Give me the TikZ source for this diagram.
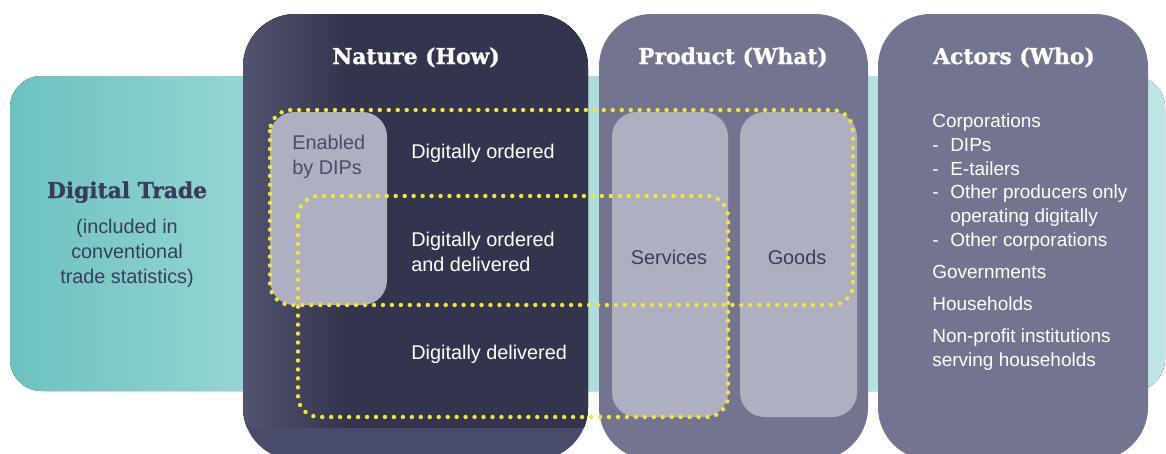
\documentclass[tikz,border=0pt]{standalone}
\usepackage{fontspec}
\setmainfont{Liberation Sans}
\newfontfamily\slabfont{DejaVu Serif}[BoldFeatures={FakeBold=1.2}]
\usetikzlibrary{positioning}
\usepackage{xcolor}

\definecolor{navy}{HTML}{33354F}
\definecolor{navyleft}{HTML}{52546F}
\definecolor{navyfoot}{HTML}{494B6A}
\definecolor{slate}{HTML}{737590}
\definecolor{lilac}{HTML}{AEAFC0}
\definecolor{tealdark}{HTML}{6CC2C0}
\definecolor{tealsoft}{HTML}{93D5D2}
\definecolor{tealmid}{HTML}{AEDEDB}
\definecolor{teallight}{HTML}{BDE5E3}
\definecolor{dotyellow}{HTML}{F4E530}
\definecolor{inkdark}{HTML}{3B3C5D}
\definecolor{inkgrey}{HTML}{4B4C68}

% 25bp = left edge of the path, 75bp = right edge
\pgfdeclarehorizontalshading{navyfade}{100bp}{color(0bp)=(navyleft); color(25bp)=(navyleft); color(40bp)=(navy); color(100bp)=(navy)}
\pgfdeclarehorizontalshading{tealfade}{100bp}{color(0bp)=(tealdark); color(25bp)=(tealdark); color(35bp)=(tealsoft); color(50bp)=(tealmid); color(75bp)=(teallight); color(100bp)=(teallight)}

\newcommand{\listdash}[1]{\makebox[10.2pt][l]{-}#1}

\tikzset{paneltitle/.style={text=white, font=\slabfont\bfseries\fontsize{12.4}{15}\selectfont, anchor=base, inner sep=0pt},
         bodytext/.style={text=white, font=\fontsize{11.3}{14.2}\selectfont, align=left, anchor=base west, inner sep=0pt},
         dotline/.style={draw=dotyellow, line width=2.5pt, line cap=round, dash pattern=on 0pt off 5.1pt, rounded corners=12}}

\begin{document}
\begin{tikzpicture}[x=0.02cm, y=-0.02cm]

        \useasboundingbox (0,0) rectangle (1166,453);
        \clip (0,0) rectangle (1166,453);

        % Band
        \fill[rounded corners=18, shading=tealfade] (10,76) rectangle (1165,391);

        % Panels
        \fill[navyfoot, rounded corners=30] (243,14) rectangle (588,460);
        \begin{scope}
            \clip (243,0) rectangle (588,427);
            \fill[rounded corners=30, shading=navyfade] (243,14) rectangle (588,460);
        \end{scope}
        \fill[slate, rounded corners=30] (599,14) rectangle (868,460);
        \fill[slate, rounded corners=30] (878,14) rectangle (1148,460);

        % Inner boxes
        \fill[lilac, rounded corners=14] (270,112) rectangle (387,305);
        \fill[lilac, rounded corners=14] (612,112) rectangle (728,417);
        \fill[lilac, rounded corners=14] (740,112) rectangle (857,417);

        % Dotted groups
        \draw[dotline] (270,110) rectangle (853,305);
        \draw[dotline] (298,196) rectangle (728,417);

        % Nodes (multi-line nodes sit on their last baseline)
        \node[paneltitle] (nature) at (416,64) {Nature (How)};
        \node[paneltitle] (product) at (733,64) {Product (What)};
        \node[paneltitle] (actors) at (1014,64) {Actors (Who)};

        \node[paneltitle, text=inkdark] (trade) at (127,198) {Digital Trade};
        \node[bodytext, text=inkdark, align=center, anchor=base, font=\fontsize{11.3}{14.2}\selectfont] (tradenote) at (127,283) {(included in\\conventional\\trade statistics)};

        \node[bodytext, text=inkgrey] (dips) at (292,174) {Enabled\\by DIPs};
        \node[bodytext] (ordered) at (411,158) {Digitally ordered};
        \node[bodytext] (both) at (411,271) {Digitally ordered\\and delivered};
        \node[bodytext] (delivered) at (411,359) {Digitally delivered};

        \node[bodytext, text=inkdark, anchor=base] (services) at (669,264) {Services};
        \node[bodytext, text=inkdark, anchor=base] (goods) at (797,264) {Goods};

        \node[bodytext, font=\fontsize{10.8}{13.6}\selectfont] (actorlist) at (932,366) {Corporations\\
            \listdash{DIPs}\\
            \listdash{E-tailers}\\
            \listdash{Other producers only}\\
            \hspace*{10.2pt}operating digitally\\
            \listdash{Other corporations}\\[4.5pt]
            Governments\\[4.5pt]
            Households\\[4.5pt]
            Non-profit institutions\\
            serving households};

\end{tikzpicture}
\end{document}
